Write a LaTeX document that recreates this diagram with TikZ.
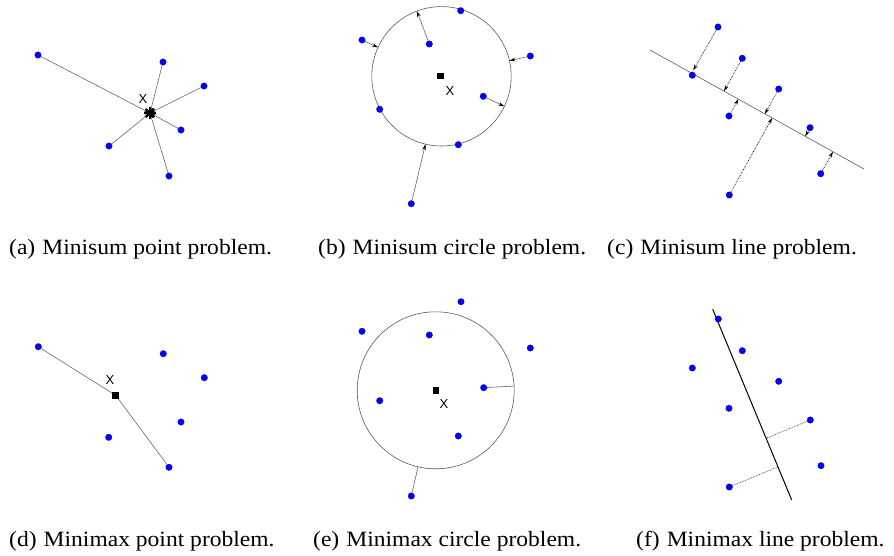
\documentclass[tikz,border=0pt]{standalone}
\usepackage{fontspec}
\setmainfont{Liberation Serif}
\newfontfamily\xsans{Liberation Sans}
\usetikzlibrary{arrows.meta,calc}
\begin{document}
\begin{tikzpicture}[x=1pt,y=-1pt,
  dot/.style={circle,fill=blue,draw=blue!65!black,line width=0.3pt,inner sep=0pt,minimum size=6.5pt},
  link/.style={draw=black!60,line width=0.6pt},
  arr/.style={link,-{Stealth[length=6pt,width=3.6pt,black]}},
  darr/.style={draw=black,line width=0.7pt,densely dotted,-{Stealth[length=6pt,width=3.6pt,black]}},
  dline/.style={draw=black!80,line width=0.7pt,densely dotted},
  ring/.style={draw=black!65,line width=0.6pt},
  ctr/.style={fill=black,inner sep=0pt,minimum size=6.8pt},
  xlab/.style={font=\xsans\fontsize{13}{14}\selectfont,inner sep=0pt},
  captext/.style={anchor=base west,inner sep=0pt,font=\fontsize{21.8}{24}\selectfont}]
\useasboundingbox (0,0) rectangle (894,555);

% ---------- (a) Minisum point ----------
\coordinate (astar) at (150,113);
\node[dot] (a1) at (38,55) {};
\node[dot] (a2) at (163,62) {};
\node[dot] (a3) at (204,86) {};
\node[dot] (a4) at (181,130) {};
\node[dot] (a5) at (109,146) {};
\node[dot] (a6) at (169,176) {};
\foreach \p in {a1,a2,a3,a4,a5,a6} \draw[arr] (\p) -- (astar);
\foreach \ang in {0,45,90,135} \draw[black,line width=2pt] ($(astar)+(\ang:6)$) -- ($(astar)+(\ang+180:6)$);
\node[xlab] (ax) at (143,99) {X};

% ---------- (b) Minisum circle ----------
\coordinate (bc) at (441.5,76.3);
\draw[ring] (bc) circle (69.7);
\node[ctr] (bsq) at (440.7,76) {};
\node[xlab] (bx) at (450,90.7) {X};
\node[dot] (b1) at (362,40) {};
\node[dot] (b2) at (429.3,44) {};
\node[dot] (b3) at (460.7,10.7) {};
\node[dot] (b4) at (530.3,56) {};
\node[dot] (b5) at (483.3,96.3) {};
\node[dot] (b6) at (379.7,109.3) {};
\node[dot] (b7) at (458.3,144.7) {};
\node[dot] (b8) at (411.3,203.7) {};
\foreach \p in {b1,b2,b4,b5,b8} \draw[arr] (\p) -- ($(bc)!69.7pt!(\p)$);

% ---------- (c) Minisum line ----------
\coordinate (cA) at (650,50);
\coordinate (cB) at (864,169);
\draw[ring] (cA) -- (cB);
\node[dot] (c1) at (718,27) {};
\node[dot] (c2) at (742.3,58.3) {};
\node[dot] (c3) at (692.3,75.2) {};
\node[dot] (c4) at (778.7,89) {};
\node[dot] (c5) at (729,116) {};
\node[dot] (c6) at (810,127.7) {};
\node[dot] (c7) at (820.7,173.7) {};
\node[dot] (c8) at (729.3,195) {};
\draw[darr] (c1) -- ($(cA)!(c1)!(cB)+(1,-3)$);
\foreach \p in {c2,c4,c5,c6,c7,c8} \draw[darr] (\p) -- ($(cA)!(\p)!(cB)$);

% ---------- (d) Minimax point ----------
\node[ctr] (dsq) at (115.7,395.3) {};
\node[xlab] (dx) at (110,380) {X};
\node[dot] (d1) at (38.3,346.7) {};
\node[dot] (d2) at (163.3,353.7) {};
\node[dot] (d3) at (204.3,377.7) {};
\node[dot] (d4) at (181,422) {};
\node[dot] (d5) at (108.7,437.3) {};
\node[dot] (d6) at (169,467.3) {};
\draw[link] (d1) -- (dsq.center);
\draw[link] (d6) -- (dsq.center);
\node[ctr] at (115.7,395.3) {};

% ---------- (e) Minimax circle ----------
\coordinate (ec) at (435.7,390.3);
\draw[ring] (ec) circle (78.5);
\node[ctr] (esq) at (436,390.7) {};
\node[xlab] (ex) at (444,404.3) {X};
\node[dot] (e1) at (461,301.7) {};
\node[dot] (e2) at (362,331.3) {};
\node[dot] (e3) at (429.3,335) {};
\node[dot] (e4) at (530.3,348) {};
\node[dot] (e5) at (483.7,387.7) {};
\node[dot] (e6) at (379.7,400.7) {};
\node[dot] (e7) at (458.3,436) {};
\node[dot] (e8) at (411.3,496) {};
\draw[link] (e5) -- ($(ec)!78.5pt!(e5)$);
\draw[link] (e8) -- ($(ec)!78.5pt!(e8)$);

% ---------- (f) Minimax line ----------
\coordinate (fA) at (712.7,309.3);
\coordinate (fB) at (791.7,500);
\draw[black,line width=1pt] (fA) -- (fB);
\node[dot] (f1) at (718.3,319) {};
\node[dot] (f2) at (742.3,350.7) {};
\node[dot] (f3) at (692.3,368) {};
\node[dot] (f4) at (778.7,381.3) {};
\node[dot] (f5) at (729,408.3) {};
\node[dot] (f6) at (810.3,420) {};
\node[dot] (f7) at (821,465.7) {};
\node[dot] (f8) at (729.3,487) {};
\draw[dline] (f6) -- ($(fA)!(f6)!(fB)$);
\draw[dline] (f8) -- ($(fA)!(f8)!(fB)$);

% ---------- captions ----------
\node[captext] (capa) at (9,254.7) {\scalebox{1.08}[1]{(a)\hspace{0.3em}Minisum point problem.}};
\node[captext] (capb) at (318,254.7) {\scalebox{1.08}[1]{(b)\hspace{0.3em}Minisum circle problem.}};
\node[captext] (capc) at (607,254.7) {\scalebox{1.08}[1]{(c)\hspace{0.3em}Minisum line problem.}};
\node[captext] (capd) at (9,546.7) {\scalebox{1.08}[1]{(d)\hspace{0.3em}Minimax point problem.}};
\node[captext] (cape) at (313,546.7) {\scalebox{1.08}[1]{(e)\hspace{0.3em}Minimax circle problem.}};
\node[captext] (capf) at (636,546.7) {\scalebox{1.08}[1]{(f)\hspace{0.3em}Minimax line problem.}};
\end{tikzpicture}
\end{document}
